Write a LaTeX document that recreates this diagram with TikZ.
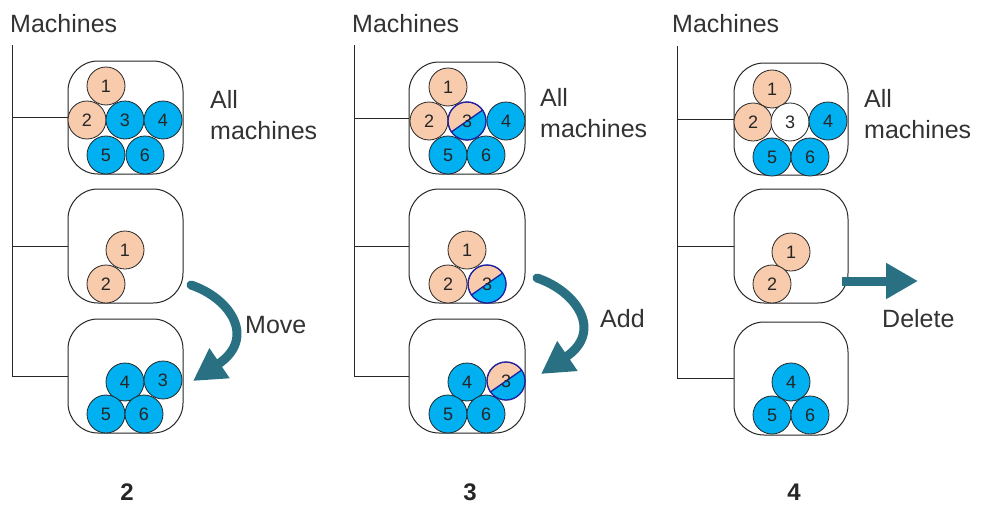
\documentclass[tikz,border=0pt]{standalone}
\usepackage{fontspec}
\setmainfont{Liberation Sans}
\usetikzlibrary{arrows.meta}
\definecolor{peach}{HTML}{F8CBAD}
\definecolor{cyanb}{HTML}{00B0F0}
\definecolor{tealc}{HTML}{2A7083}
\definecolor{navyc}{HTML}{2020A0}
\definecolor{txt}{HTML}{333333}
\tikzset{
  mc/.style={circle, draw=black!85, line width=0.8pt, minimum size=38pt, inner sep=0pt,
    text=black!85, font=\fontsize{18}{18}\selectfont},
  pe/.style={mc, fill=peach},
  bl/.style={mc, fill=cyanb},
  wh/.style={mc, fill=white},
  box/.style={draw=black!85, line width=1pt, rounded corners=30pt, inner sep=0pt},
  tree/.style={draw=black!85, line width=1pt},
  lbl/.style={text=txt, font=\fontsize{25}{25}\selectfont, inner sep=0pt, anchor=base west},
  num/.style={text=black!85, font=\fontsize{24}{24}\selectfont\bfseries, inner sep=0pt, anchor=base},
  bigarrow/.style={draw=tealc, line width=9pt, line cap=round, -{Triangle[length=32pt,width=34pt]}},
}
\newcommand\halfc[3]{%
  \node[pe, draw=navyc] (#1) at (#2,#3) {};
  \fill[cyanb] (#1.center) ++(35:19pt) arc[start angle=35,end angle=-145,radius=19pt] -- cycle;
  \draw[navyc, line width=1.3pt] (#1.center) ++(35:19pt) -- ++(215:38pt);
  \draw[navyc, line width=1.3pt] (#1.center) circle[radius=19pt];
  \node[text=black!85, font=\fontsize{18}{18}\selectfont, inner sep=0pt] at (#1.center) {3};
}
\begin{document}
\begin{tikzpicture}[x=1pt,y=-1pt]
\useasboundingbox (0,0) rectangle (981,506);
\fill[white] (0,0) rectangle (981,506);

% ---------------- Panel 2 (left) ----------------
\node[lbl] (ma) at (10,32) {Machines};
\node[box, minimum width=115pt, minimum height=113pt] (a1) at (125.5,117.5) {};
\node[box, minimum width=115pt, minimum height=114pt] (a2) at (125.5,246) {};
\node[box, minimum width=115pt, minimum height=114pt] (a3) at (125.5,376) {};
\coordinate (at) at (12,45);
\draw[tree] (at) |- (a3.west);
\draw[tree] (at |- a1.west) -- (a1.west);
\draw[tree] (at |- a2.west) -- (a2.west);
\node[lbl] (aall) at (210,108) {All};
\node[lbl] (amach) at (210,139) {machines};
\node[pe] (a11) at (106,86) {1};
\node[pe] (a12) at (87,120) {2};
\node[bl] (a13) at (125,120) {3};
\node[bl] (a14) at (163,120) {4};
\node[bl] (a15) at (106,155) {5};
\node[bl] (a16) at (145,155) {6};
\node[pe] (a21) at (125,250) {1};
\node[pe] (a22) at (106,284) {2};
\node[bl] (a34) at (125,382) {4};
\node[bl] (a33) at (163,380) {3};
\node[bl] (a35) at (106,414) {5};
\node[bl] (a36) at (144,414) {6};
\coordinate (as) at (191,285);
\coordinate (ae) at (193,381);
\draw[bigarrow] (as) .. controls (230,298) and (257,338) .. (ae);
\node[lbl] (amove) at (245,333) {Move};
\node[num] (an) at (127,500) {2};

% ---------------- Panel 3 (middle) ----------------
\node[lbl] (mb) at (352,32) {Machines};
\node[box, minimum width=116pt, minimum height=112pt] (b1) at (467,118) {};
\node[box, minimum width=116pt, minimum height=114pt] (b2) at (467,246) {};
\node[box, minimum width=116pt, minimum height=114pt] (b3) at (467,376) {};
\coordinate (bt) at (354,45);
\draw[tree] (bt) |- (b3.west);
\draw[tree] (bt |- b1.west) -- (b1.west);
\draw[tree] (bt |- b2.west) -- (b2.west);
\node[lbl] (ball) at (540,106) {All};
\node[lbl] (bmach) at (540,137) {machines};
\node[pe] (b11) at (448,87) {1};
\node[pe] (b12) at (429,121) {2};
\node[bl] (b14) at (506,121) {4};
\node[bl] (b15) at (448,155) {5};
\node[bl] (b16) at (486,155) {6};
\halfc{b13}{467}{121}
\node[pe] (b21) at (467,250) {1};
\node[pe] (b22) at (448,284) {2};
\halfc{b23}{487}{284}
\node[bl] (b34) at (467,382) {4};
\node[bl] (b35) at (448,414) {5};
\node[bl] (b36) at (486,414) {6};
\halfc{b33}{506}{381}
\coordinate (bs) at (537,278);
\coordinate (be) at (541,374);
\draw[bigarrow] (bs) .. controls (576,291) and (604,331) .. (be);
\node[lbl] (badd) at (600,327) {Add};
\node[num] (bn) at (470,500) {3};

% ---------------- Panel 4 (right) ----------------
\node[lbl] (mc) at (672,32) {Machines};
\node[box, minimum width=114pt, minimum height=112pt] (c1) at (791,119) {};
\node[box, minimum width=114pt, minimum height=114pt] (c2) at (791,246) {};
\node[box, minimum width=114pt, minimum height=113pt] (c3) at (791,378.5) {};
\coordinate (ct) at (677,46);
\draw[tree] (ct) |- (c3.west);
\draw[tree] (ct |- c1.west) -- (c1.west);
\draw[tree] (ct |- c2.west) -- (c2.west);
\node[lbl] (call) at (864,107) {All};
\node[lbl] (cmach) at (864,138) {machines};
\node[pe] (c11) at (772,89) {1};
\node[pe] (c12) at (753,122) {2};
\node[wh] (c13) at (790,122) {3};
\node[bl] (c14) at (828,121) {4};
\node[bl] (c15) at (772,157) {5};
\node[bl] (c16) at (810,157) {6};
\node[pe] (c21) at (791,252) {1};
\node[pe] (c22) at (772,284) {2};
\node[bl] (c34) at (791,382) {4};
\node[bl] (c35) at (772,415) {5};
\node[bl] (c36) at (810,415) {6};
\coordinate (cs) at (842,281);
\coordinate (ce) at (918,281);
\draw[bigarrow, line cap=butt] (cs) -- (ce);
\node[lbl] (cdel) at (882,327) {Delete};
\node[num] (cn) at (794,500) {4};
\end{tikzpicture}
\end{document}
